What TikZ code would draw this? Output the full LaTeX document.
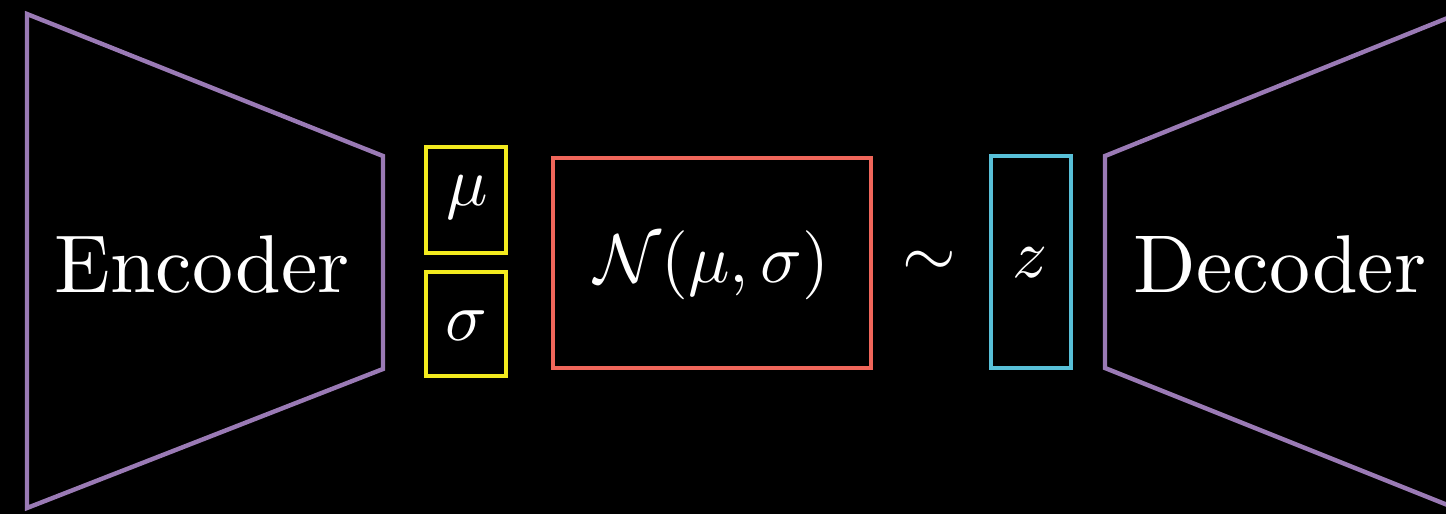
\documentclass[tikz,border=0pt]{standalone}
\usepackage{amsmath}
\definecolor{vpurple}{HTML}{9A7AB5}
\definecolor{vyellow}{HTML}{F2EA1E}
\definecolor{vred}{HTML}{F0665A}
\definecolor{vblue}{HTML}{58C0D8}
\begin{document}
\begin{tikzpicture}[x=0.5pt,y=-0.5pt,
  lbl/.style={text=white,scale=4.1,inner sep=0pt},
  mth/.style={text=white,scale=3.45,inner sep=0pt},
  box/.style={draw,line width=2.3pt,rectangle,inner sep=0pt}]
\useasboundingbox (0,0) rectangle (1446,514);
\fill[black] (0,0) rectangle (1446,514);
% Encoder trapezoid
\draw[vpurple,line width=2.2pt,line join=miter] (27,14) -- (383,156) -- (383,369) -- (27,508) -- cycle;
\node[lbl] (enc) at (202,264) {Encoder};
% mu and sigma
\node[box,draw=vyellow,minimum width=40pt,minimum height=53pt] (mu) at (466,200) {};
\node[mth] (mut) at (467,197) {$\mu$};
\node[box,draw=vyellow,minimum width=40pt,minimum height=52pt] (sig) at (466,324) {};
\node[mth] (sigt) at (466,326) {$\sigma$};
% Normal
\node[box,draw=vred,minimum width=159pt,minimum height=105pt] (norm) at (712,263) {};
\node[mth] (normt) at (712,265) {$\mathcal{N}(\mu,\sigma)$};
% tilde
\node[mth] (til) at (929,264) {$\sim$};
% z
\node[box,draw=vblue,minimum width=40pt,minimum height=106pt] (z) at (1031,262) {};
\node[mth] (zt) at (1030,263) {$z$};
% Decoder
\draw[vpurple,line width=2.2pt,line join=miter] (1460,13) -- (1105,156) -- (1105,368) -- (1460,510);
\node[lbl] (dec) at (1280,264) {Decoder};
\end{tikzpicture}
\end{document}
